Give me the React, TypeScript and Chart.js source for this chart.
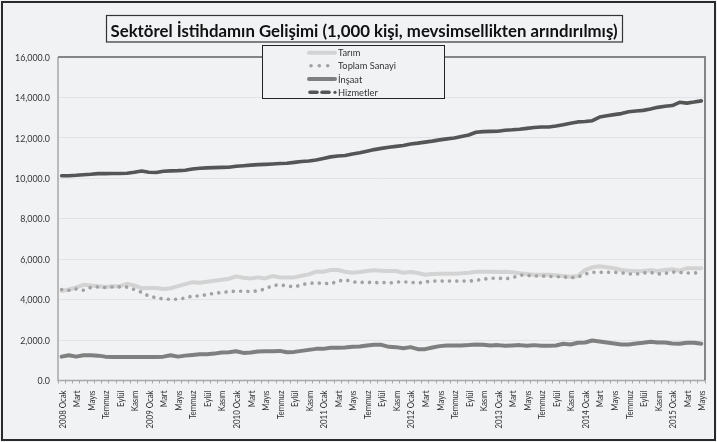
import React, { useEffect, useRef } from "react";
import { Chart, registerables } from "chart.js";
Chart.register(...registerables);

// ---- categories ----
const monthNames = ["Ocak", "Şubat", "Mart", "Nisan", "Mayıs", "Haziran", "Temmuz", "Ağustos", "Eylül", "Ekim", "Kasım", "Aralık"];
const years = [2008, 2009, 2010, 2011, 2012, 2013, 2014, 2015];
const lastYearMonths = 5; // 2015: Ocak..Mayıs
const categories: string[] = [];
years.forEach((y, yi) => {
  const n = yi === years.length - 1 ? lastYearMonths : 12;
  for (let m = 0; m < n; m++) categories.push(m === 0 ? `${y} ${monthNames[m]}` : monthNames[m]);
});

// ---- series (1,000 kişi) ----
const tarim = [
  4430, 4500, 4600, 4730, 4700, 4665, 4630, 4665, 4665, 4780, 4700, 4565, 4580, 4580, 4530, 4565, 4665, 4765, 4865, 4830, 4880, 4930, 4980, 5030, 5150, 5080, 5050, 5100, 5050, 5165,
  5100, 5100, 5100, 5180, 5250, 5380, 5380, 5465, 5465, 5380, 5330, 5365, 5415, 5450, 5430, 5415, 5415, 5330, 5365, 5315, 5230, 5265, 5280, 5280, 5280, 5300, 5330, 5380, 5380,
  5380, 5365, 5380, 5350, 5300, 5265, 5230, 5230, 5230, 5200, 5165, 5130, 5165, 5465, 5600, 5650, 5600, 5550, 5465, 5430, 5400, 5415, 5450, 5415, 5465, 5500, 5430, 5550, 5550, 5550,
];
const toplamSanayi = [
  4500, 4465, 4530, 4465, 4600, 4630, 4600, 4630, 4630, 4615, 4500, 4365, 4165, 4100, 4030, 4015, 4015, 4080, 4180, 4180, 4250, 4315, 4350, 4400, 4415, 4415, 4400, 4430, 4530, 4700,
  4730, 4680, 4630, 4730, 4815, 4815, 4815, 4780, 4915, 4980, 4880, 4850, 4865, 4830, 4865, 4815, 4865, 4880, 4865, 4815, 4880, 4915, 4915, 4915, 4915, 4915, 4915, 4950, 5015,
  5050, 5065, 5030, 5080, 5215, 5200, 5165, 5165, 5150, 5130, 5130, 5080, 5115, 5265, 5350, 5350, 5350, 5350, 5330, 5265, 5265, 5315, 5350, 5265, 5300, 5365, 5350, 5315, 5315, 5350,
];
const insaat = [
  1180, 1250, 1180, 1250, 1250, 1230, 1180, 1165, 1165, 1165, 1165, 1165, 1165, 1165, 1180, 1250, 1180, 1230, 1265, 1300, 1300, 1330, 1380, 1400, 1450, 1365, 1380, 1430, 1450, 1450,
  1465, 1400, 1415, 1465, 1515, 1565, 1565, 1615, 1615, 1630, 1665, 1680, 1730, 1765, 1765, 1665, 1650, 1600, 1650, 1550, 1550, 1630, 1700, 1730, 1730, 1730, 1750, 1780, 1765,
  1730, 1750, 1715, 1730, 1750, 1715, 1750, 1715, 1715, 1730, 1815, 1780, 1865, 1880, 1980, 1930, 1880, 1830, 1780, 1780, 1830, 1865, 1915, 1880, 1880, 1830, 1815, 1865, 1865, 1815,
];
const hizmetler = [
  10130, 10130, 10150, 10180, 10200, 10230, 10230, 10235, 10240, 10250, 10300, 10360, 10300, 10290, 10350, 10370, 10380, 10400, 10460, 10500, 10515, 10530, 10540, 10545, 10600, 10625, 10650, 10675, 10690, 10710,
  10730, 10745, 10790, 10830, 10860, 10910, 10985, 11060, 11100, 11130, 11200, 11260, 11340, 11420,
  11480, 11540, 11580, 11620, 11700, 11740, 11790, 11840, 11900, 11950, 11990, 12070, 12140, 12280, 12310, 12320, 12330, 12380, 12400, 12430, 12470, 12510, 12535, 12540, 12585, 12650, 12720, 12790, 12810, 12850,
  13030, 13090, 13150, 13200, 13290, 13330, 13360, 13430, 13510, 13560, 13600, 13760, 13720, 13770, 13830,
];

// ---- axis ticks ----
const yTickValues = [0, 2000, 4000, 6000, 8000, 10000, 12000, 14000, 16000];
const titleText = "Sektörel İstihdamın Gelişimi (1,000 kişi, mevsimsellikten arındırılmış)";
const seriesNames = ["Tarım", "Toplam Sanayi", "İnşaat", "Hizmetler"];

const BG = "#f1f2f4";
const C_TARIM = "#d3d3d3";
const C_SANAYI = "#a2a2a2";
const C_INSAAT = "#7f7f7f";
const C_HIZMET = "#555555";
const FONT = "Lato, 'Liberation Sans', sans-serif";

function fitScale(ctx: CanvasRenderingContext2D, font: string, ref: string, target: number) {
  ctx.save();
  ctx.font = font;
  const w = ctx.measureText(ref).width;
  ctx.restore();
  return w > 0 ? target / w : 1;
}

function drawText(
  ctx: CanvasRenderingContext2D, text: string, x: number, y: number, font: string, color: string,
  sx: number, align: CanvasTextAlign, baseline: CanvasTextBaseline, rot = 0
) {
  ctx.save();
  ctx.translate(x, y);
  if (rot) ctx.rotate(rot);
  ctx.scale(sx, 1);
  ctx.font = font;
  ctx.fillStyle = color;
  ctx.textAlign = align;
  ctx.textBaseline = baseline;
  ctx.fillText(text, 0, 0);
  ctx.restore();
}

const framePlugin = {
  id: "frame",
  beforeDraw(chart: any) {
    const { ctx, width, height } = chart;
    ctx.save();
    ctx.fillStyle = BG;
    ctx.fillRect(0, 0, width, height);
    ctx.restore();
  },
  afterDraw(chart: any) {
    const { ctx, chartArea } = chart;
    const xs = chart.scales.x;
    const ys = chart.scales.y;
    const { left, right, top, bottom } = chartArea;
    ctx.save();
    // axes
    ctx.strokeStyle = "#a8a8a8";
    ctx.lineWidth = 1.5;
    ctx.beginPath();
    ctx.moveTo(left, top);
    ctx.lineTo(left, bottom);
    ctx.lineTo(right, bottom);
    ctx.stroke();
    // plot border top/right
    ctx.strokeStyle = "#858585";
    ctx.lineWidth = 2;
    ctx.beginPath();
    ctx.moveTo(left, top);
    ctx.lineTo(right, top);
    ctx.lineTo(right, bottom);
    ctx.stroke();
    ctx.restore();

    // y labels
    const yFont = `9.8px ${FONT}`;
    const ySx = fitScale(ctx, yFont, "16,000.0", 35);
    yTickValues.forEach((v) => {
      const y = ys.getPixelForValue(v);
      const t = v.toLocaleString("en-US", { minimumFractionDigits: 1, maximumFractionDigits: 1 });
      drawText(ctx, t, left - 8, y + 0.5, yFont, "#333", ySx, "right", "middle");
    });

    // x labels
    const xFont = `9px ${FONT}`;
    const xSx = fitScale(ctx, xFont, "2008 Ocak", 38);
    categories.forEach((c, i) => {
      if (i % 2 !== 0) return;
      const x = xs.getPixelForValue(i);
      drawText(ctx, c, x + 1, bottom + 10, xFont, "#333", xSx, "right", "middle", -Math.PI / 2);
    });

    // title box
    ctx.save();
    ctx.fillStyle = BG;
    ctx.fillRect(106, 15, 516, 27);
    ctx.strokeStyle = "#333";
    ctx.lineWidth = 1.2;
    ctx.strokeRect(106.5, 15.5, 516, 26.5);
    ctx.restore();
    const tFont = `bold 17px ${FONT}`;
    const tSx = fitScale(ctx, tFont, titleText, 507);
    drawText(ctx, titleText, 364, 36.5, tFont, "#111", tSx, "center", "alphabetic");

    // legend box
    ctx.save();
    ctx.fillStyle = BG;
    ctx.fillRect(262.5, 45.5, 182, 53);
    ctx.strokeStyle = "#222";
    ctx.lineWidth = 1;
    ctx.strokeRect(262.5, 45.5, 182, 53);
    ctx.restore();
    const rows = [52.7, 65.7, 79, 92.3];
    const lFont = `9.5px ${FONT}`;
    const lSx = fitScale(ctx, lFont, "Toplam Sanayi", 58);
    ctx.save();
    ctx.lineCap = "round";
    // Tarım
    ctx.strokeStyle = C_TARIM;
    ctx.lineWidth = 4;
    ctx.beginPath(); ctx.moveTo(309, rows[0]); ctx.lineTo(335, rows[0]); ctx.stroke();
    // Toplam Sanayi
    ctx.fillStyle = C_SANAYI;
    [311, 319.3, 327.7].forEach((x) => { ctx.beginPath(); ctx.arc(x, rows[1], 1.8, 0, Math.PI * 2); ctx.fill(); });
    // İnşaat
    ctx.strokeStyle = C_INSAAT;
    ctx.lineWidth = 4;
    ctx.beginPath(); ctx.moveTo(309, rows[2]); ctx.lineTo(335, rows[2]); ctx.stroke();
    // Hizmetler
    ctx.strokeStyle = C_HIZMET;
    ctx.lineWidth = 3.5;
    ctx.beginPath(); ctx.moveTo(310, rows[3]); ctx.lineTo(317, rows[3]); ctx.stroke();
    ctx.beginPath(); ctx.moveTo(322, rows[3]); ctx.lineTo(329, rows[3]); ctx.stroke();
    ctx.fillStyle = C_HIZMET;
    ctx.beginPath(); ctx.arc(335, rows[3], 1.6, 0, Math.PI * 2); ctx.fill();
    ctx.restore();
    seriesNames.forEach((n, i) => {
      drawText(ctx, n, 338, rows[i] + 0.5, lFont, "#333", lSx, "left", "middle");
    });

    // outer frame
    ctx.save();
    ctx.strokeStyle = "#2a2a2a";
    ctx.lineWidth = 2;
    ctx.strokeRect(2, 2, 713, 438);
    ctx.restore();
  },
};

export default function App() {
  const ref = useRef<HTMLCanvasElement>(null);
  useEffect(() => {
    const canvas = ref.current!;
    const chart = new Chart(canvas, {
      type: "line",
      data: {
        labels: categories,
        datasets: [
          { label: seriesNames[0], data: tarim, borderColor: C_TARIM, borderWidth: 4, pointRadius: 0, order: 4, borderCapStyle: "round", borderJoinStyle: "round", tension: 0 },
          { label: seriesNames[1], data: toplamSanayi, borderColor: C_SANAYI, borderWidth: 3.6, borderDash: [0.01, 7.3], borderCapStyle: "round", pointRadius: 0, order: 1, tension: 0 },
          { label: seriesNames[2], data: insaat, borderColor: C_INSAAT, borderWidth: 4, pointRadius: 0, order: 3, borderCapStyle: "round", borderJoinStyle: "round", tension: 0 },
          { label: seriesNames[3], data: hizmetler, borderColor: C_HIZMET, borderWidth: 3.6, pointRadius: 0, order: 2, borderCapStyle: "round", borderJoinStyle: "round", tension: 0 },
        ],
      } as any,
      options: {
        responsive: false,
        animation: false,
        devicePixelRatio: 1,
        events: [],
        layout: { padding: { top: 57, right: 12, left: 0, bottom: 0 } },
        plugins: { legend: { display: false }, title: { display: false }, tooltip: { enabled: false } },
        scales: {
          x: {
            type: "category",
            offset: true,
            grid: { display: true, drawOnChartArea: false, drawTicks: true, tickLength: 3, offset: true, color: "#a8a8a8" },
            border: { display: false },
            ticks: { display: false, autoSkip: false },
            afterFit(scale: any) { scale.height = 61.5; },
          },
          y: {
            min: 0,
            max: 16000,
            ticks: { display: false, stepSize: 2000 },
            grid: { color: "#e2e3e6", drawTicks: false, lineWidth: 1 },
            border: { display: false },
            afterFit(scale: any) { scale.width = 58; },
          },
        },
      } as any,
      plugins: [framePlugin],
    });
    return () => chart.destroy();
  }, []);
  return (
    <div style={{ position: "fixed", left: 0, top: 0, width: 717, height: 442 }}>
      <canvas ref={ref} width={717} height={442} style={{ display: "block", width: 717, height: 442 }} />
    </div>
  );
}
